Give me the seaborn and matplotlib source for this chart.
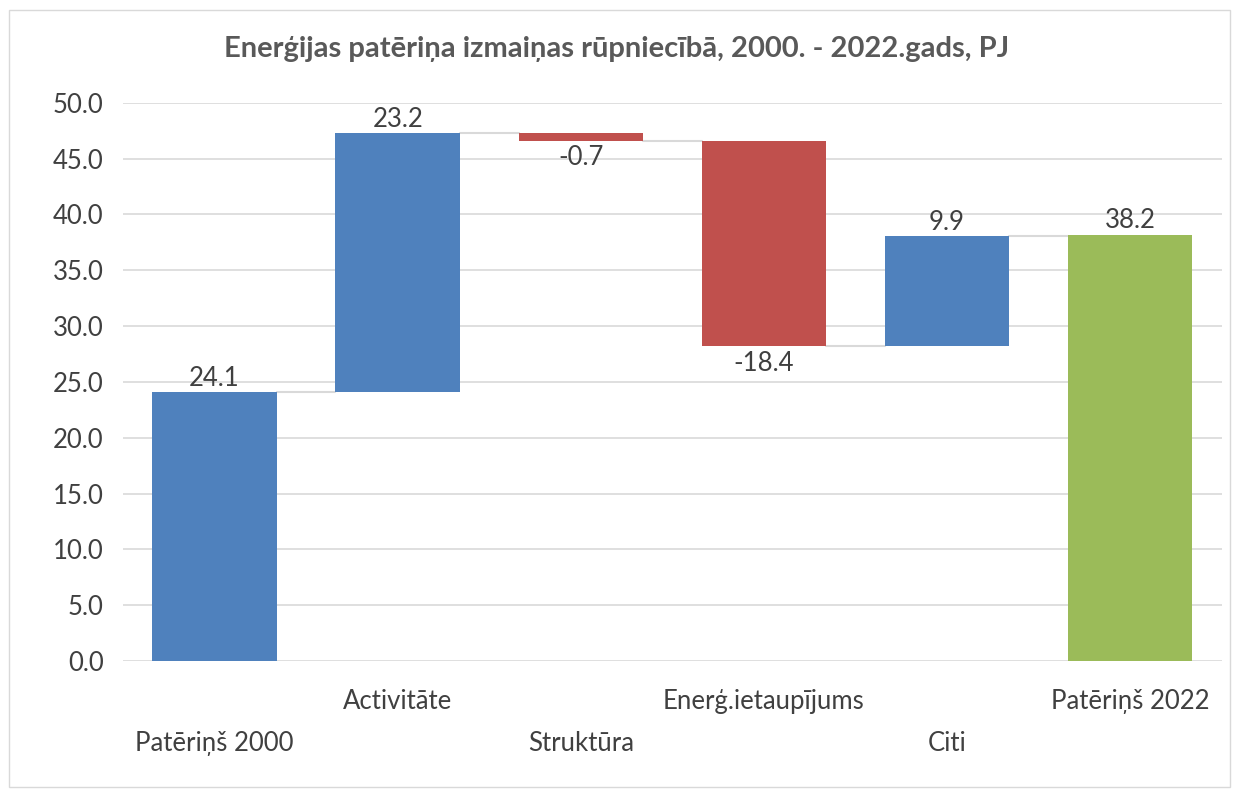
import numpy as np
import pandas as pd
import matplotlib
matplotlib.use('Agg')
import matplotlib.pyplot as plt
import seaborn as sns
from matplotlib.patches import Rectangle

# chart data
categories = ['Patēriņš 2000', 'Activitāte', 'Struktūra', 'Enerģ.ietaupījums', 'Citi', 'Patēriņš 2022']
values = [24.1, 23.2, -0.7, -18.4, 9.9, 38.2]
is_total = [True, False, False, False, False, True]

blue = '#4f81bd'
red = '#c0504d'
green = '#9bbb59'
grid_col = '#d9d9d9'
text_col = '#404040'

# waterfall geometry from the values
bottoms, heights, ends = [], [], []
level = 0.0
for v, tot in zip(values, is_total):
    if tot:
        bottoms.append(0.0)
        heights.append(v)
        level = v
    else:
        start = level
        level = level + v
        bottoms.append(min(start, level))
        heights.append(abs(v))
    ends.append(level)

df = pd.DataFrame({'category': categories, 'height': heights, 'bottom': bottoms})

sns.set_style('white')
plt.rcParams['font.family'] = ['Lato', 'DejaVu Sans']

fig = plt.figure(figsize=(12.34, 7.97), dpi=100)
ax = fig.add_axes([0.0997, 0.1706, 0.8903, 0.7004])

sns.barplot(data=df, x='category', y='height', bottom=df['bottom'].values,
            color=blue, width=0.68, ax=ax, zorder=3)

colors = []
for v, tot in zip(values, is_total):
    if tot and v == values[-1]:
        colors.append(green)
    elif tot or v >= 0:
        colors.append(blue)
    else:
        colors.append(red)
for p, c in zip(ax.patches, colors):
    p.set_facecolor(c)
    p.set_edgecolor('none')

# connector lines
for i in range(len(values) - 1):
    ax.plot([i + 0.34, i + 1 - 0.34], [ends[i], ends[i]], color=grid_col, lw=1.5, zorder=2)

# value labels
fs = 18.5
for i, (v, tot) in enumerate(zip(values, is_total)):
    top = bottoms[i] + heights[i]
    if v >= 0:
        ax.text(i, top + 0.1, f'{v:.1f}', ha='center', va='bottom', fontsize=fs, color=text_col, zorder=4)
    else:
        ax.text(i, bottoms[i] - 0.4, f'{v:.1f}', ha='center', va='top', fontsize=fs, color=text_col, zorder=4)

ax.set_ylim(0, 50)
ax.set_xlim(-0.5, len(categories) - 0.5)
ax.set_yticks(np.arange(0, 50.1, 5))
ax.set_yticklabels([f'{t:.1f}' for t in np.arange(0, 50.1, 5)])
ax.yaxis.grid(True, color=grid_col, lw=1.2, zorder=0)
ax.set_axisbelow(True)
for s in ax.spines.values():
    s.set_visible(False)

labels = [('\n' + c) if i % 2 == 0 else c for i, c in enumerate(categories)]
ax.set_xticks(range(len(categories)))
ax.set_xticklabels(labels, fontsize=fs, color=text_col, linespacing=1.85)
ax.tick_params(axis='x', length=0, pad=20)
ax.tick_params(axis='y', length=0, labelsize=fs, labelcolor=text_col, pad=14)
ax.set_xlabel('')
ax.set_ylabel('')

fig.text(0.5, 0.938, 'Enerģijas patēriņa izmaiņas rūpniecībā, 2000. - 2022.gads, PJ',
         ha='center', va='center', fontsize=21, fontweight='bold', color='#595959')

fig.patches.append(Rectangle((0.007, 0.012), 0.99, 0.975, transform=fig.transFigure,
                             fill=False, edgecolor=grid_col, lw=1))

fig.savefig('out.png', dpi=100)
